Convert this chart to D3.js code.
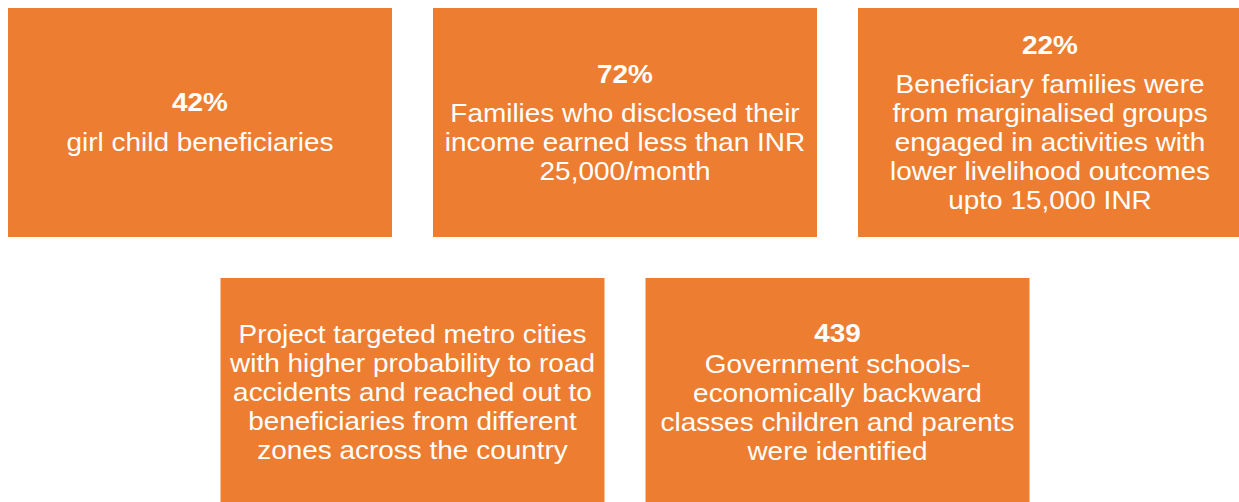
<!DOCTYPE html>
<html>
<head>
  <meta charset="utf-8">
  <script type="text/javascript" src="https://cdn.jsdelivr.net/npm/d3@7"></script>
  <style>
    body { margin: 0; background: #fff; }
  </style>
</head>
<body>
  <div id="viz"></div>
  <script type="text/javascript">
    // card contents, in reading order
    var headers = ['42%', '72%', '22%', '', '439'];
    var bodies = [
      ['girl child beneficiaries'],
      ['Families who disclosed their', 'income earned less than INR', '25,000/month'],
      ['Beneficiary families were', 'from marginalised groups', 'engaged in activities with', 'lower livelihood outcomes', 'upto 15,000 INR'],
      ['Project targeted metro cities', 'with higher probability to road', 'accidents and reached out to', 'beneficiaries from different', 'zones across the country'],
      ['Government schools-', 'economically backward', 'classes children and parents', 'were identified']
    ];
    // grid slot of each card (row 2 sits half a column in)
    var cols = [0, 1, 2, 0.5, 1.5];
    var rows = [0, 0, 0, 1, 1];
    var headerGaps = [40, 39, 39, 0, 31];

    var W = 1239, H = 502;
    var boxW = 384, boxH = 229;
    var lineH = 29, capH = 19, fontSize = 26.5, stretch = 1.055;

    var x = d3.scaleLinear().domain([0, 1]).range([8, 433]);
    var y = d3.scaleLinear().domain([0, 1]).range([8, 278]);

    var cards = headers.map(function(h, i) {
      return { header: h, lines: bodies[i], col: cols[i], row: rows[i], gap: headerGaps[i] };
    });

    var svg = d3.select("#viz")
      .append("svg")
      .attr("width", W)
      .attr("height", H);

    var g = svg.selectAll("g.card")
      .data(cards)
      .enter()
      .append("g")
      .attr("class", "card")
      .attr("transform", function(d) { return "translate(" + x(d.col) + "," + y(d.row) + ")"; });

    g.append("rect")
      .attr("width", boxW)
      .attr("height", boxH)
      .attr("fill", "#ED7D31");

    g.each(function(d) {
      var el = d3.select(this);
      var items = [];
      if (d.header) items.push({ t: d.header, bold: true });
      d.lines.forEach(function(l) { items.push({ t: l, bold: false }); });
      var total = (d.header ? d.gap : 0) + (d.lines.length - 1) * lineH;
      var mid = boxH / 2 - 1;
      var base = mid - (total - capH) / 2;
      var pos = [];
      var yy = base;
      items.forEach(function(it, i) {
        pos.push(yy);
        yy += (i === 0 && d.header) ? d.gap : lineH;
      });
      el.selectAll("text")
        .data(items)
        .enter()
        .append("text")
        .attr("transform", function(it, i) { return "translate(" + boxW / 2 + "," + pos[i] + ") scale(" + stretch + ",1)"; })
        .attr("text-anchor", "middle")
        .attr("fill", "#fff")
        .style("font-family", "'Liberation Sans', Arial, sans-serif")
        .style("font-size", fontSize + "px")
        .style("font-weight", function(it) { return it.bold ? "bold" : "normal"; })
        .text(function(it) { return it.t; });
    });
  </script>
</body>
</html>
